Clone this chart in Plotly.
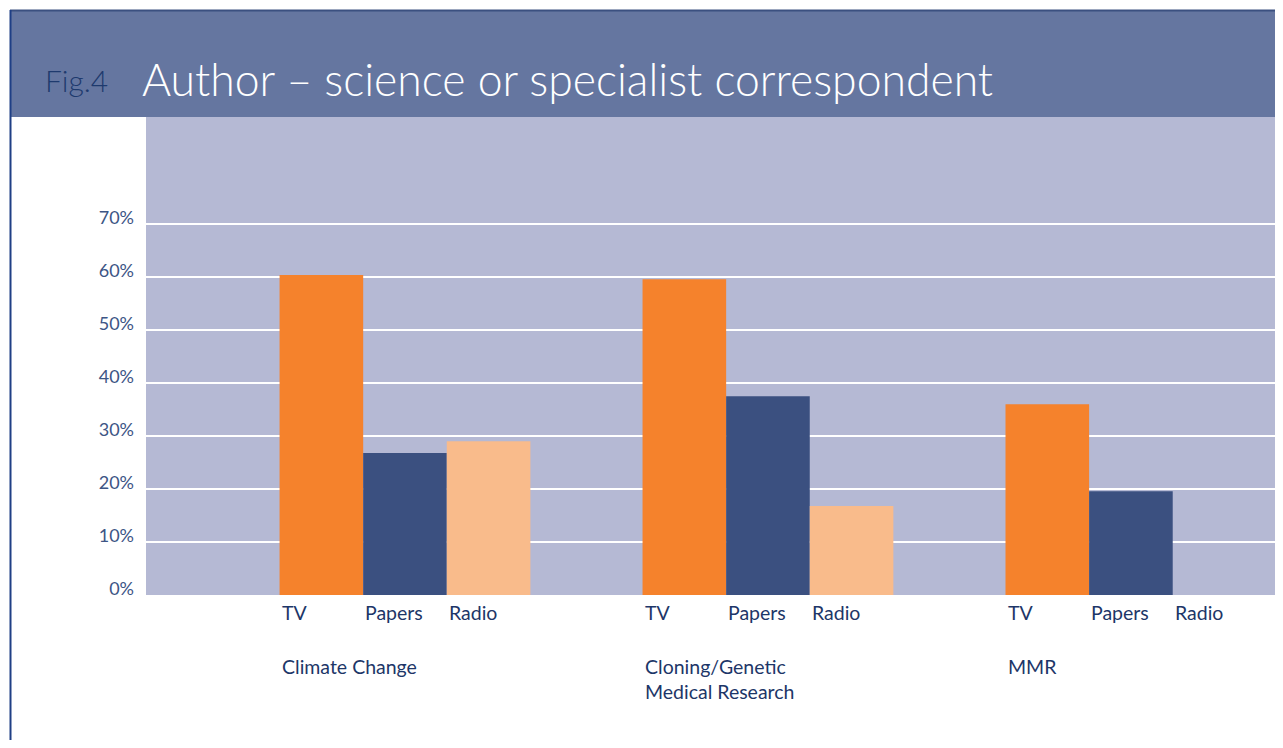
import plotly.graph_objects as go

# data
topics = ["Climate Change", "Cloning/Genetic<br>Medical Research", "MMR"]
media = ["TV", "Papers", "Radio"]
tv = [60.4, 59.6, 36.0]
papers = [26.8, 37.5, 19.6]
radio = [29.0, 16.8, 0.0]
y_ticks = [0, 10, 20, 30, 40, 50, 60, 70]
y_tick_labels = ["0%", "10%", "20%", "30%", "40%", "50%", "60%", "70%"]

colors = ["#f5822c", "#3b5080", "#f9bb8b"]
label_color = "#1d3668"

# the page puts the figure 8px in from the top-left corner
OFF = 8
W, H = 1283 - OFF, 748 - 2 * OFF
L, T = 146 - OFF, 117 - OFF
B = H - (595 - OFF)
plot_w = W - L
plot_h = H - T - B


def px_x(p):
    return (p - OFF - L) / plot_w


def px_y(p):
    return (H - B - (p - OFF)) / plot_h


bargap = 0.309
bar_w = (1 - bargap) / 3

fig = go.Figure()
for name, vals, c in zip(media, [tv, papers, radio], colors):
    fig.add_trace(go.Bar(x=list(range(len(topics))), y=vals, name=name,
                         marker_color=c, marker_line_width=0))

annotations = []
for i, topic in enumerate(topics):
    left = i - (1 - bargap) / 2
    for b, m in enumerate(media):
        annotations.append(dict(
            x=left + b * bar_w, y=0, xref="x", yref="y", text=m,
            xanchor="left", yanchor="top", yshift=-4, showarrow=False,
            font=dict(size=19.5, color=label_color)))
    annotations.append(dict(
        x=left, y=0, xref="x", yref="y", text=topic, align="left",
        xanchor="left", yanchor="top", yshift=-58, showarrow=False,
        font=dict(size=19.5, color=label_color)))

# header text
annotations.append(dict(x=px_x(43), y=px_y(80), xref="paper", yref="paper",
                        text="Fig.4", xanchor="left", yanchor="middle",
                        showarrow=False,
                        font=dict(size=30, color="#1e3a6e", weight=300)))
annotations.append(dict(x=px_x(140), y=px_y(78), xref="paper", yref="paper",
                        text="Author \u2013 science or specialist correspondent",
                        xanchor="left", yanchor="middle", showarrow=False,
                        font=dict(size=44.5, color="white", weight=300)))

shapes = [
    dict(type="rect", xref="paper", yref="paper", x0=px_x(10), x1=1.0,
         y0=px_y(117), y1=px_y(10), fillcolor="#6576a0", line_width=0,
         layer="below"),
    dict(type="line", xref="paper", yref="paper", x0=px_x(10), x1=1.0,
         y0=px_y(10.5), y1=px_y(10.5), line=dict(color="#3b5080", width=2)),
    dict(type="line", xref="paper", yref="paper", x0=px_x(10.5), x1=px_x(10.5),
         y0=px_y(760), y1=px_y(10), line=dict(color="#1f3f85", width=2)),
]

fig.update_layout(
    width=W, height=H,
    margin=dict(l=L, r=0, t=T, b=B, pad=0),
    barmode="group", bargap=bargap, bargroupgap=0,
    plot_bgcolor="#b5b9d4", paper_bgcolor="white",
    showlegend=False,
    font=dict(family="Lato", color=label_color),
    annotations=annotations,
    shapes=shapes,
)
fig.update_xaxes(range=[-0.7135, 2.419], showticklabels=False,
                 showgrid=False, zeroline=False, showline=False)
fig.update_yaxes(range=[0, 90.2], tickvals=y_ticks, ticktext=y_tick_labels,
                 showgrid=True, gridcolor="white", gridwidth=1.5,
                 zeroline=False, showline=False, ticks="",
                 ticklabelstandoff=11, ticklabelshift=-6,
                 tickfont=dict(size=18, color="#3d5585"))

fig.write_html("out.html")
